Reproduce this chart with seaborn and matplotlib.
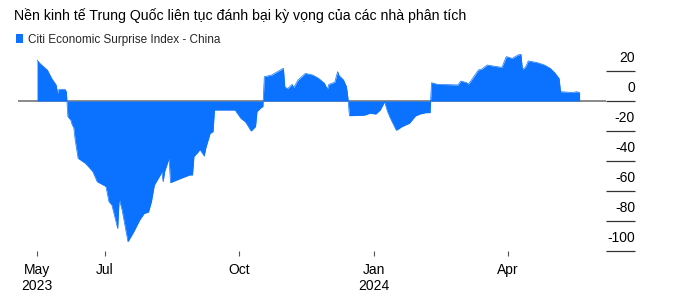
import numpy as np
import pandas as pd
import matplotlib
matplotlib.use("Agg")
import matplotlib.pyplot as plt
import seaborn as sns
from matplotlib import font_manager as fm
from matplotlib.patches import Patch

# ---------------- data ----------------
title = "Nền kinh tế Trung Quốc liên tục đánh bại kỳ vọng của các nhà phân tích"
series_name = "Citi Economic Surprise Index - China"

dates = [
    "2023-05-16", "2023-05-18", "2023-05-23", "2023-05-26", "2023-05-29", "2023-05-30",
    "2023-05-31", "2023-06-04", "2023-06-05", "2023-06-06", "2023-06-08", "2023-06-09",
    "2023-06-10", "2023-06-11", "2023-06-13", "2023-06-18", "2023-06-23", "2023-06-26",
    "2023-07-02", "2023-07-04", "2023-07-06", "2023-07-10", "2023-07-11", "2023-07-13",
    "2023-07-17", "2023-07-21", "2023-07-25", "2023-07-28", "2023-07-31", "2023-08-02",
    "2023-08-04", "2023-08-08", "2023-08-09", "2023-08-10", "2023-08-11", "2023-08-14",
    "2023-08-15", "2023-08-22", "2023-08-28", "2023-08-30", "2023-08-31", "2023-09-03",
    "2023-09-04", "2023-09-07", "2023-09-08", "2023-09-11", "2023-09-13", "2023-09-14",
    "2023-09-28", "2023-10-02", "2023-10-05", "2023-10-09", "2023-10-12", "2023-10-13",
    "2023-10-16", "2023-10-17", "2023-10-18", "2023-10-23", "2023-10-27", "2023-10-31",
    "2023-11-01", "2023-11-03", "2023-11-06", "2023-11-07", "2023-11-10", "2023-11-15",
    "2023-11-20", "2023-11-24", "2023-11-28", "2023-11-30", "2023-12-01", "2023-12-05",
    "2023-12-07", "2023-12-08", "2023-12-11", "2023-12-13", "2023-12-14", "2023-12-15",
    "2023-12-25", "2023-12-29", "2024-01-02", "2024-01-05", "2024-01-08", "2024-01-10",
    "2024-01-12", "2024-01-16", "2024-01-20", "2024-01-25", "2024-01-29", "2024-02-01",
    "2024-02-05", "2024-02-08", "2024-02-09", "2024-02-13", "2024-02-27", "2024-02-29",
    "2024-03-04", "2024-03-05", "2024-03-07", "2024-03-12", "2024-03-14", "2024-03-18",
    "2024-03-22", "2024-03-28", "2024-03-31", "2024-04-04", "2024-04-08", "2024-04-10",
    "2024-04-11", "2024-04-13", "2024-04-15", "2024-04-21", "2024-04-26", "2024-04-30",
    "2024-05-03", "2024-05-06", "2024-05-07", "2024-05-13", "2024-05-16", "2024-05-18",
    "2024-05-20",
]
values = [
    27.3, 25.0, 20.7, 15.0, 10.7, 5.3,
    7.8, 7.8, 6.2, -10.4, -12.7, -16.0,
    -17.5, -26.0, -38.2, -41.6, -47.0, -53.8,
    -57.0, -67.0, -69.3, -85.0, -65.0, -72.7,
    -93.8, -87.0, -79.3, -75.0, -74.0, -67.0,
    -56.0, -49.3, -47.0, -53.8, -47.0, -38.2,
    -54.4, -51.6, -49.3, -49.3, -37.0, -33.8,
    -32.2, -36.7, -31.6, -21.6, -20.4, -6.0,
    -6.0, -11.6, -13.8, -20.0, -17.0, -7.0,
    -4.2, -3.8, 16.2, 17.3, 19.6, 21.8,
    9.1, 8.4, 11.1, 8.9, 14.0, 18.4,
    17.3, 15.1, 11.8, 7.8, 11.1, 12.5,
    19.6, 16.9, 14.0, 9.6, 2.0, -9.8,
    -9.5, -8.2, -8.7, -6.0, -0.5, -7.0,
    -11.6, -19.5, -17.0, -14.8, -10.0, -8.7,
    -7.8, -7.8, 12.2, 11.1, 10.7, 13.3,
    12.2, 11.1, 13.6, 20.7, 21.1, 24.0,
    23.3, 22.4, 29.6, 28.4, 30.7, 31.1,
    21.1, 22.4, 26.7, 25.6, 24.0, 21.8,
    18.9, 15.1, 6.2, 5.8, 5.8, 6.2,
    5.6,
]

xtick_dates = ["2023-05-16", "2023-07-01", "2023-10-01", "2024-01-01", "2024-04-01"]
xtick_labels = ["May\n2023", "Jul", "Oct", "Jan\n2024", "Apr"]
ytick_values = [20, 0, -20, -40, -60, -80, -100]

# ---------------- style ----------------
BLUE = "#0A72FF"
sns.set_theme(style="white")
avail = {f.name for f in fm.fontManager.ttflist}
narrow = "Liberation Sans Narrow" if "Liberation Sans Narrow" in avail else "Liberation Sans"
plt.rcParams["font.family"] = ["Liberation Sans", "DejaVu Sans"]

df = pd.DataFrame({"date": pd.to_datetime(dates), "value": values})

W, H = 674, 300
fig = plt.figure(figsize=(W / 100, H / 100), dpi=100)
renderer = fig.canvas.get_renderer()


def fit_size(txt, target_px, base=10.0):
    t = fig.text(0, 0, txt, fontsize=base, family=[narrow, "DejaVu Sans"])
    w = t.get_window_extent(renderer=renderer).width
    t.remove()
    return base * target_px / w


ax = fig.add_axes([18 / W, 49 / H, 588 / W, 201 / H])

ax.axhline(0, color="#808080", lw=1.3, zorder=1)
ax.fill_between(df["date"], 0, df["value"], color=BLUE, lw=0, zorder=2)
sns.lineplot(data=df, x="date", y="value", ax=ax, color=BLUE, lw=0.5, zorder=3)

ax.set_xlim(pd.Timestamp("2023-05-03"), pd.Timestamp("2024-06-07"))
ax.set_ylim(-100, 34)
ax.set_xlabel("")
ax.set_ylabel("")
for s in ax.spines.values():
    s.set_visible(False)

ax.set_xticks(pd.to_datetime(xtick_dates))
ax.set_xticklabels(xtick_labels, fontsize=10, color="black")
ax.tick_params(axis="x", length=3.6, width=0.8, color="#555555", pad=5.0, bottom=True)

ax.yaxis.tick_right()
ax.set_yticks(ytick_values)
ax.set_yticklabels([])
ax.tick_params(axis="y", length=20.9, width=0.9, color="#333333", direction="out", right=True, left=False)
for v in ytick_values:
    ax.annotate(f"{v}", xy=(1.0, v), xycoords=("axes fraction", "data"),
                xytext=(20.9, 6.5), textcoords="offset points",
                ha="right", va="baseline", fontsize=10, color="black")

# title, sized to span about the same width as the reference
tsize = fit_size(title, 452.0, 11.7)
fig.text(14 / W, 1 - 20 / H, title, ha="left", va="baseline", fontsize=tsize,
         family=[narrow, "DejaVu Sans"], color="black")

# legend
lsize = fit_size(series_name, 193.0, 10.0)
px = lsize * 100 / 72
fig.legend(handles=[Patch(facecolor=BLUE, edgecolor="none")], labels=[series_name],
           loc="upper left", bbox_to_anchor=(15.7 / W, 1 - 33.5 / H), frameon=False,
           handlelength=7 / px, handleheight=8.5 / px, handletextpad=5 / px, borderpad=0,
           borderaxespad=0, prop={"family": [narrow, "DejaVu Sans"], "size": lsize})

fig.savefig("out.png", dpi=100)
